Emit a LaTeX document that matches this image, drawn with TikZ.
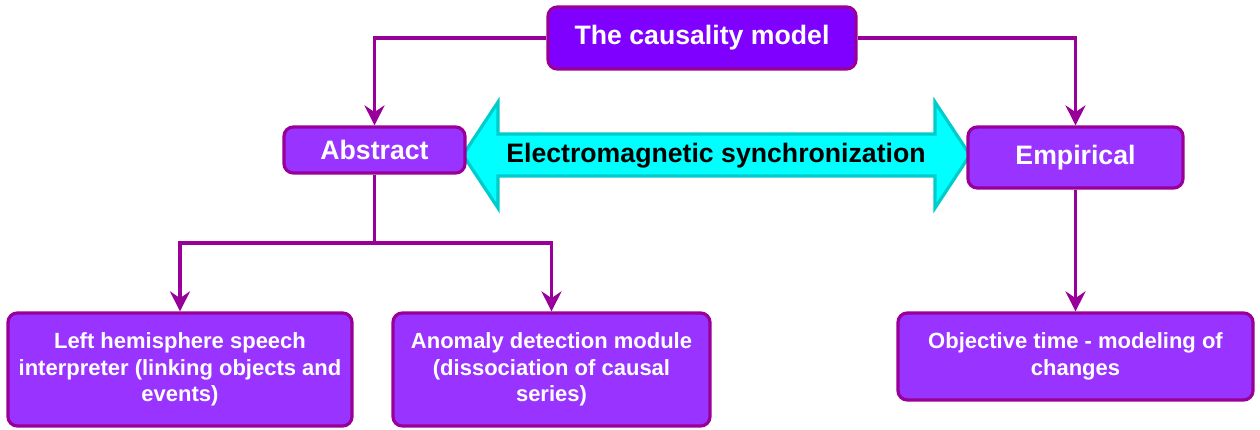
\documentclass[tikz,border=0pt]{standalone}
\usepackage{fontspec}
\setmainfont{Liberation Sans}
\usetikzlibrary{arrows.meta}

\tikzset{
  box/.style={draw={rgb, 255:red, 153; green, 0; blue, 153 }, line width=2.4pt, rounded corners=7pt,
    fill={rgb, 255:red, 153; green, 51; blue, 255 }, text=white, inner sep=0pt, align=center,
    font=\bfseries\fontsize{20}{23}\selectfont},
  smallbox/.style={box, font=\bfseries\fontsize{16.5}{20}\selectfont},
  link/.style={draw={rgb, 255:red, 153; green, 0; blue, 153 }, line width=2.6pt,
    -{Stealth[length=15pt,width=15pt,inset=5pt]}},
  plain/.style={draw={rgb, 255:red, 153; green, 0; blue, 153 }, line width=2.6pt},
}

\begin{document}
\begin{tikzpicture}[x=0.75pt,y=0.75pt,yscale=-1,xscale=1]
\useasboundingbox (0,0) rectangle (1260,429);

%Shape: Double Arrow
\draw [color={rgb, 255:red, 0; green, 204; blue, 204 }, line width=2.4pt, line join=miter, fill={rgb, 255:red, 0; green, 255; blue, 255 }]
  (463,155) -- (498,102) -- (498,134) -- (935,134) -- (935,102) -- (970,155) -- (935,208) -- (935,176) -- (498,176) -- (498,208) -- cycle ;
\node [font=\bfseries\fontsize{20}{23}\selectfont, text=black] (sync) at (716,156) {Electromagnetic synchronization};

%Shape: Rounded Rect
\node [box, fill={rgb, 255:red, 127; green, 0; blue, 255 }, minimum width=231pt, minimum height=46.5pt] (cause) at (702,38) {The causality model};
\node [box, minimum width=135.75pt, minimum height=34.5pt] (abs) at (374.5,150) {Abstract};
\node [box, minimum width=161.25pt, minimum height=45.75pt] (emp) at (1075.5,157.5) {Empirical};
\node [smallbox, minimum width=258pt, minimum height=84.75pt] (interp) at (180,369.5) {Left hemisphere speech\\interpreter (linking objects and\\events)};
\node [smallbox, minimum width=237.75pt, minimum height=84.75pt] (anom) at (551.5,369.5) {Anomaly detection module\\(dissociation of causal\\series)};
\node [smallbox, minimum width=266.25pt, minimum height=65.25pt] (obj) at (1075.5,356.5) {Objective time - modeling of\\changes};

%Connectors
\coordinate (split) at (374.5,243);
\draw [link] (cause.west) -| (abs.north) ;
\draw [link] (cause.east) -| (emp.north) ;
\draw [plain] (abs.south) -- (split) ;
\draw [link] (split) -| (interp.north) ;
\draw [link] (split) -| (anom.north) ;
\draw [link] (emp.south) -- (obj.north) ;

\end{tikzpicture}
\end{document}
